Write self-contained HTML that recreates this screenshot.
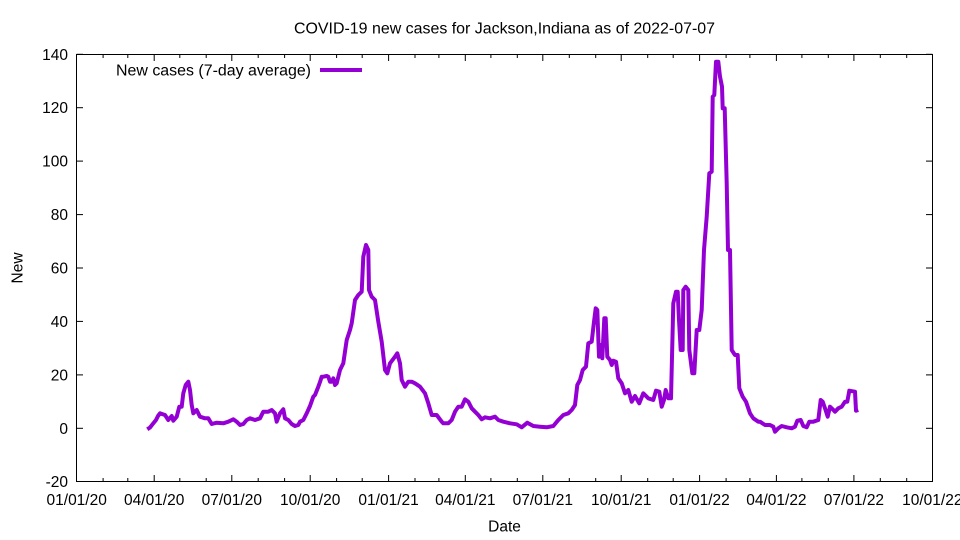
<!DOCTYPE html>
<html>
<head>
<meta charset="utf-8">
<style>
  html, body { margin: 0; padding: 0; background: #ffffff; }
  svg { display: block; }
  text { font-family: "Liberation Sans", Arial, sans-serif; fill: #000; }
</style>
</head>
<body>
<svg width="960" height="540" viewBox="0 0 960 540" xmlns="http://www.w3.org/2000/svg">
  <rect x="0" y="0" width="960" height="540" fill="#ffffff"/>

  <!-- Title -->
  <text x="504.5" y="33.5" font-size="15.5" text-anchor="middle" textLength="421" lengthAdjust="spacingAndGlyphs">COVID-19 new cases for Jackson,Indiana as of 2022-07-07</text>

  <!-- Y ticks (left and right) -->
  <g stroke="#000" stroke-width="1">
    <line x1="76.5" y1="54.3" x2="83" y2="54.3"/><line x1="932.5" y1="54.3" x2="926" y2="54.3"/>
    <line x1="76.5" y1="107.7" x2="83" y2="107.7"/><line x1="932.5" y1="107.7" x2="926" y2="107.7"/>
    <line x1="76.5" y1="161.1" x2="83" y2="161.1"/><line x1="932.5" y1="161.1" x2="926" y2="161.1"/>
    <line x1="76.5" y1="214.6" x2="83" y2="214.6"/><line x1="932.5" y1="214.6" x2="926" y2="214.6"/>
    <line x1="76.5" y1="268.0" x2="83" y2="268.0"/><line x1="932.5" y1="268.0" x2="926" y2="268.0"/>
    <line x1="76.5" y1="321.4" x2="83" y2="321.4"/><line x1="932.5" y1="321.4" x2="926" y2="321.4"/>
    <line x1="76.5" y1="374.9" x2="83" y2="374.9"/><line x1="932.5" y1="374.9" x2="926" y2="374.9"/>
    <line x1="76.5" y1="428.3" x2="83" y2="428.3"/><line x1="932.5" y1="428.3" x2="926" y2="428.3"/>
  </g>

  <!-- X major ticks (bottom and top) -->
  <g stroke="#000" stroke-width="1">
    <line x1="154.2" y1="481.5" x2="154.2" y2="475"/><line x1="154.2" y1="54.5" x2="154.2" y2="61"/>
    <line x1="231.8" y1="481.5" x2="231.8" y2="475"/><line x1="231.8" y1="54.5" x2="231.8" y2="61"/>
    <line x1="310.2" y1="481.5" x2="310.2" y2="475"/><line x1="310.2" y1="54.5" x2="310.2" y2="61"/>
    <line x1="388.6" y1="481.5" x2="388.6" y2="475"/><line x1="388.6" y1="54.5" x2="388.6" y2="61"/>
    <line x1="465.3" y1="481.5" x2="465.3" y2="475"/><line x1="465.3" y1="54.5" x2="465.3" y2="61"/>
    <line x1="542.8" y1="481.5" x2="542.8" y2="475"/><line x1="542.8" y1="54.5" x2="542.8" y2="61"/>
    <line x1="621.2" y1="481.5" x2="621.2" y2="475"/><line x1="621.2" y1="54.5" x2="621.2" y2="61"/>
    <line x1="699.6" y1="481.5" x2="699.6" y2="475"/><line x1="699.6" y1="54.5" x2="699.6" y2="61"/>
    <line x1="776.4" y1="481.5" x2="776.4" y2="475"/><line x1="776.4" y1="54.5" x2="776.4" y2="61"/>
    <line x1="853.9" y1="481.5" x2="853.9" y2="475"/><line x1="853.9" y1="54.5" x2="853.9" y2="61"/>
  </g>

  <!-- X minor ticks (monthly) -->
  <g stroke="#000" stroke-width="1">
    <line x1="103.1" y1="481.5" x2="103.1" y2="478"/><line x1="103.1" y1="54.5" x2="103.1" y2="58"/>
    <line x1="127.8" y1="481.5" x2="127.8" y2="478"/><line x1="127.8" y1="54.5" x2="127.8" y2="58"/>
    <line x1="179.8" y1="481.5" x2="179.8" y2="478"/><line x1="179.8" y1="54.5" x2="179.8" y2="58"/>
    <line x1="206.2" y1="481.5" x2="206.2" y2="478"/><line x1="206.2" y1="54.5" x2="206.2" y2="58"/>
    <line x1="258.2" y1="481.5" x2="258.2" y2="478"/><line x1="258.2" y1="54.5" x2="258.2" y2="58"/>
    <line x1="284.6" y1="481.5" x2="284.6" y2="478"/><line x1="284.6" y1="54.5" x2="284.6" y2="58"/>
    <line x1="336.6" y1="481.5" x2="336.6" y2="478"/><line x1="336.6" y1="54.5" x2="336.6" y2="58"/>
    <line x1="362.2" y1="481.5" x2="362.2" y2="478"/><line x1="362.2" y1="54.5" x2="362.2" y2="58"/>
    <line x1="415.0" y1="481.5" x2="415.0" y2="478"/><line x1="415.0" y1="54.5" x2="415.0" y2="58"/>
    <line x1="438.9" y1="481.5" x2="438.9" y2="478"/><line x1="438.9" y1="54.5" x2="438.9" y2="58"/>
    <line x1="490.9" y1="481.5" x2="490.9" y2="478"/><line x1="490.9" y1="54.5" x2="490.9" y2="58"/>
    <line x1="517.3" y1="481.5" x2="517.3" y2="478"/><line x1="517.3" y1="54.5" x2="517.3" y2="58"/>
    <line x1="569.3" y1="481.5" x2="569.3" y2="478"/><line x1="569.3" y1="54.5" x2="569.3" y2="58"/>
    <line x1="595.7" y1="481.5" x2="595.7" y2="478"/><line x1="595.7" y1="54.5" x2="595.7" y2="58"/>
    <line x1="647.7" y1="481.5" x2="647.7" y2="478"/><line x1="647.7" y1="54.5" x2="647.7" y2="58"/>
    <line x1="673.2" y1="481.5" x2="673.2" y2="478"/><line x1="673.2" y1="54.5" x2="673.2" y2="58"/>
    <line x1="726.1" y1="481.5" x2="726.1" y2="478"/><line x1="726.1" y1="54.5" x2="726.1" y2="58"/>
    <line x1="749.9" y1="481.5" x2="749.9" y2="478"/><line x1="749.9" y1="54.5" x2="749.9" y2="58"/>
    <line x1="801.9" y1="481.5" x2="801.9" y2="478"/><line x1="801.9" y1="54.5" x2="801.9" y2="58"/>
    <line x1="828.3" y1="481.5" x2="828.3" y2="478"/><line x1="828.3" y1="54.5" x2="828.3" y2="58"/>
    <line x1="880.3" y1="481.5" x2="880.3" y2="478"/><line x1="880.3" y1="54.5" x2="880.3" y2="58"/>
    <line x1="906.7" y1="481.5" x2="906.7" y2="478"/><line x1="906.7" y1="54.5" x2="906.7" y2="58"/>
  </g>

  <!-- Y tick labels -->
  <g font-size="15.5" text-anchor="end">
    <text x="68" y="59.8">140</text>
    <text x="68" y="113.2">120</text>
    <text x="68" y="166.6">100</text>
    <text x="68" y="220.1">80</text>
    <text x="68" y="273.5">60</text>
    <text x="68" y="326.9">40</text>
    <text x="68" y="380.4">20</text>
    <text x="68" y="433.8">0</text>
    <text x="68" y="487.2">-20</text>
  </g>

  <!-- X tick labels -->
  <g font-size="15.5" text-anchor="middle">
    <text x="76.7" y="505">01/01/20</text>
    <text x="154.2" y="505">04/01/20</text>
    <text x="231.8" y="505">07/01/20</text>
    <text x="310.2" y="505">10/01/20</text>
    <text x="388.6" y="505">01/01/21</text>
    <text x="465.3" y="505">04/01/21</text>
    <text x="542.8" y="505">07/01/21</text>
    <text x="621.2" y="505">10/01/21</text>
    <text x="699.6" y="505">01/01/22</text>
    <text x="776.4" y="505">04/01/22</text>
    <text x="853.9" y="505">07/01/22</text>
    <text x="932.3" y="505">10/01/22</text>
  </g>

  <!-- Axis labels -->
  <text x="504.5" y="531.5" font-size="15.5" text-anchor="middle">Date</text>
  <text x="0" y="0" font-size="15.5" text-anchor="middle" transform="translate(22.5,268) rotate(-90)">New</text>

  <!-- Legend -->
  <text x="116" y="75.5" font-size="15.5" text-anchor="start" textLength="195" lengthAdjust="spacingAndGlyphs">New cases (7-day average)</text>
  <line x1="320" y1="70" x2="362" y2="70" stroke="#9400d3" stroke-width="4"/>

  <!-- Data series -->
  <polyline fill="none" stroke="#9400d3" stroke-width="4" stroke-linejoin="round" stroke-linecap="butt"
    points="147.3,429.3 150,427.5 153.3,423.3 156,420 158,416 160,413.3 162,414 165,415 168.3,420 171.7,416 173.3,420.7 176.7,416.7 179.3,406.7 181.7,406.7 183.3,393.3 185.7,385 188.3,381.7 190,390 191.7,405 193.3,413.3 196.7,410 200,416.7 205,418.3 208.3,418.3 211.7,424 216.7,422.7 223.3,423.3 228.3,421.7 233.3,419.3 236.7,421.7 240,425 243.3,424 246.7,420 250,418.3 255,420 260,418.3 263.3,411.7 268.3,411.7 271.7,410 275,413.3 276.7,421.7 280,413.3 283.3,409.3 285,418.3 288.3,420 291.7,424 295,426 298.3,425 300,421.7 303.3,420 306.7,413.3 310,406 313.3,396.7 315,395 318.3,386.7 320,382 321.7,376.7 323.3,376.7 326.7,376 328.3,376.7 330,381.7 331.7,381.7 333.3,378.3 335,385 336.7,383.3 340,370 343.3,363.3 346.7,340 350,330 351.7,323.3 355,300 358.3,295 361.7,291.7 363.3,256.7 366,245 368.3,250 369,290 371.7,296.7 375,300 378.3,321.7 381.7,341.7 385,370 387.3,373.3 390,363.3 395,356.7 397.3,353.3 400,363.3 401.7,380 405,386.7 408.3,381.7 411.7,381.7 415,383.3 420,386.7 425,393.3 428.3,403.3 431.7,415 436.7,415 441.7,421.7 443.3,423.3 448.3,423.3 451.7,420 455,411.7 458.3,406.7 461.7,406.7 465,399.3 468.3,401.7 471.7,408.3 475,411.7 478.3,415 481.7,419.3 485,417.3 490,418.3 495,416.7 498.3,420 503.3,421.7 510,423.3 516.7,424.3 521.7,427.3 527.3,422.7 533.3,426 540,426.7 546.7,427.3 553.3,426 558.3,420 563.3,415 568.3,413.3 571.7,410 575,405 577.3,385 580,380 582.7,370 586,366.7 588.3,343.3 591.7,341.7 594,321.7 595.7,308.3 597.3,310 599,356.7 600.7,345 602.3,358.3 604.3,318.3 605.7,318.3 607.3,356.7 610,360 611.7,365 613.3,360.7 616,361.7 618.3,378.3 621.7,383.3 625,393.3 628.3,390 631.7,401.7 635,396 639.3,403.3 643.3,393.3 648.3,398.3 653.3,400 656,390.7 659.3,391.7 661.7,406.7 664,400 665.7,390 668.3,398.3 671,398.3 673.3,303.3 676,291.7 677.7,291.7 679,320 680.7,350 682.7,350 683.3,290 685.7,286.7 688.3,290 689.3,350 692.3,373.3 694.3,373.3 696.7,330 699.3,330 701.7,310 704,250 706.7,216.7 709.3,173.3 711.7,171.7 712.7,96.7 714.3,95 716,61.7 718.3,61.7 720,76.7 722,86.7 722.7,108.3 724.7,108.3 726.7,183.3 728,250 730,250 731.7,350 735,355 737.7,355 739.3,388.3 742.7,396.7 746,401.7 750,413.3 753.3,418.3 758.3,421.7 760,421.7 765,425 770,425 773.3,426.7 775,431.7 778.3,428.3 781.7,426 786.7,427.3 791.7,428.3 795,426.7 797.3,420.7 800.7,420 803.3,426 806.7,427.3 809.3,421.7 813.3,421.7 818.3,420 820.7,400 822.7,401.7 825,408.3 827.7,416.7 830,406.7 832.7,409.3 835,411.7 838.3,408.3 841.7,406.7 845,401.7 847.3,401.7 849.3,390.7 855,391.7 856,410.7 858.3,410"/>

  <!-- Plot border -->
  <rect x="76.5" y="54.5" width="856" height="427" fill="none" stroke="#000" stroke-width="1"/>
</svg>
</body>
</html>
